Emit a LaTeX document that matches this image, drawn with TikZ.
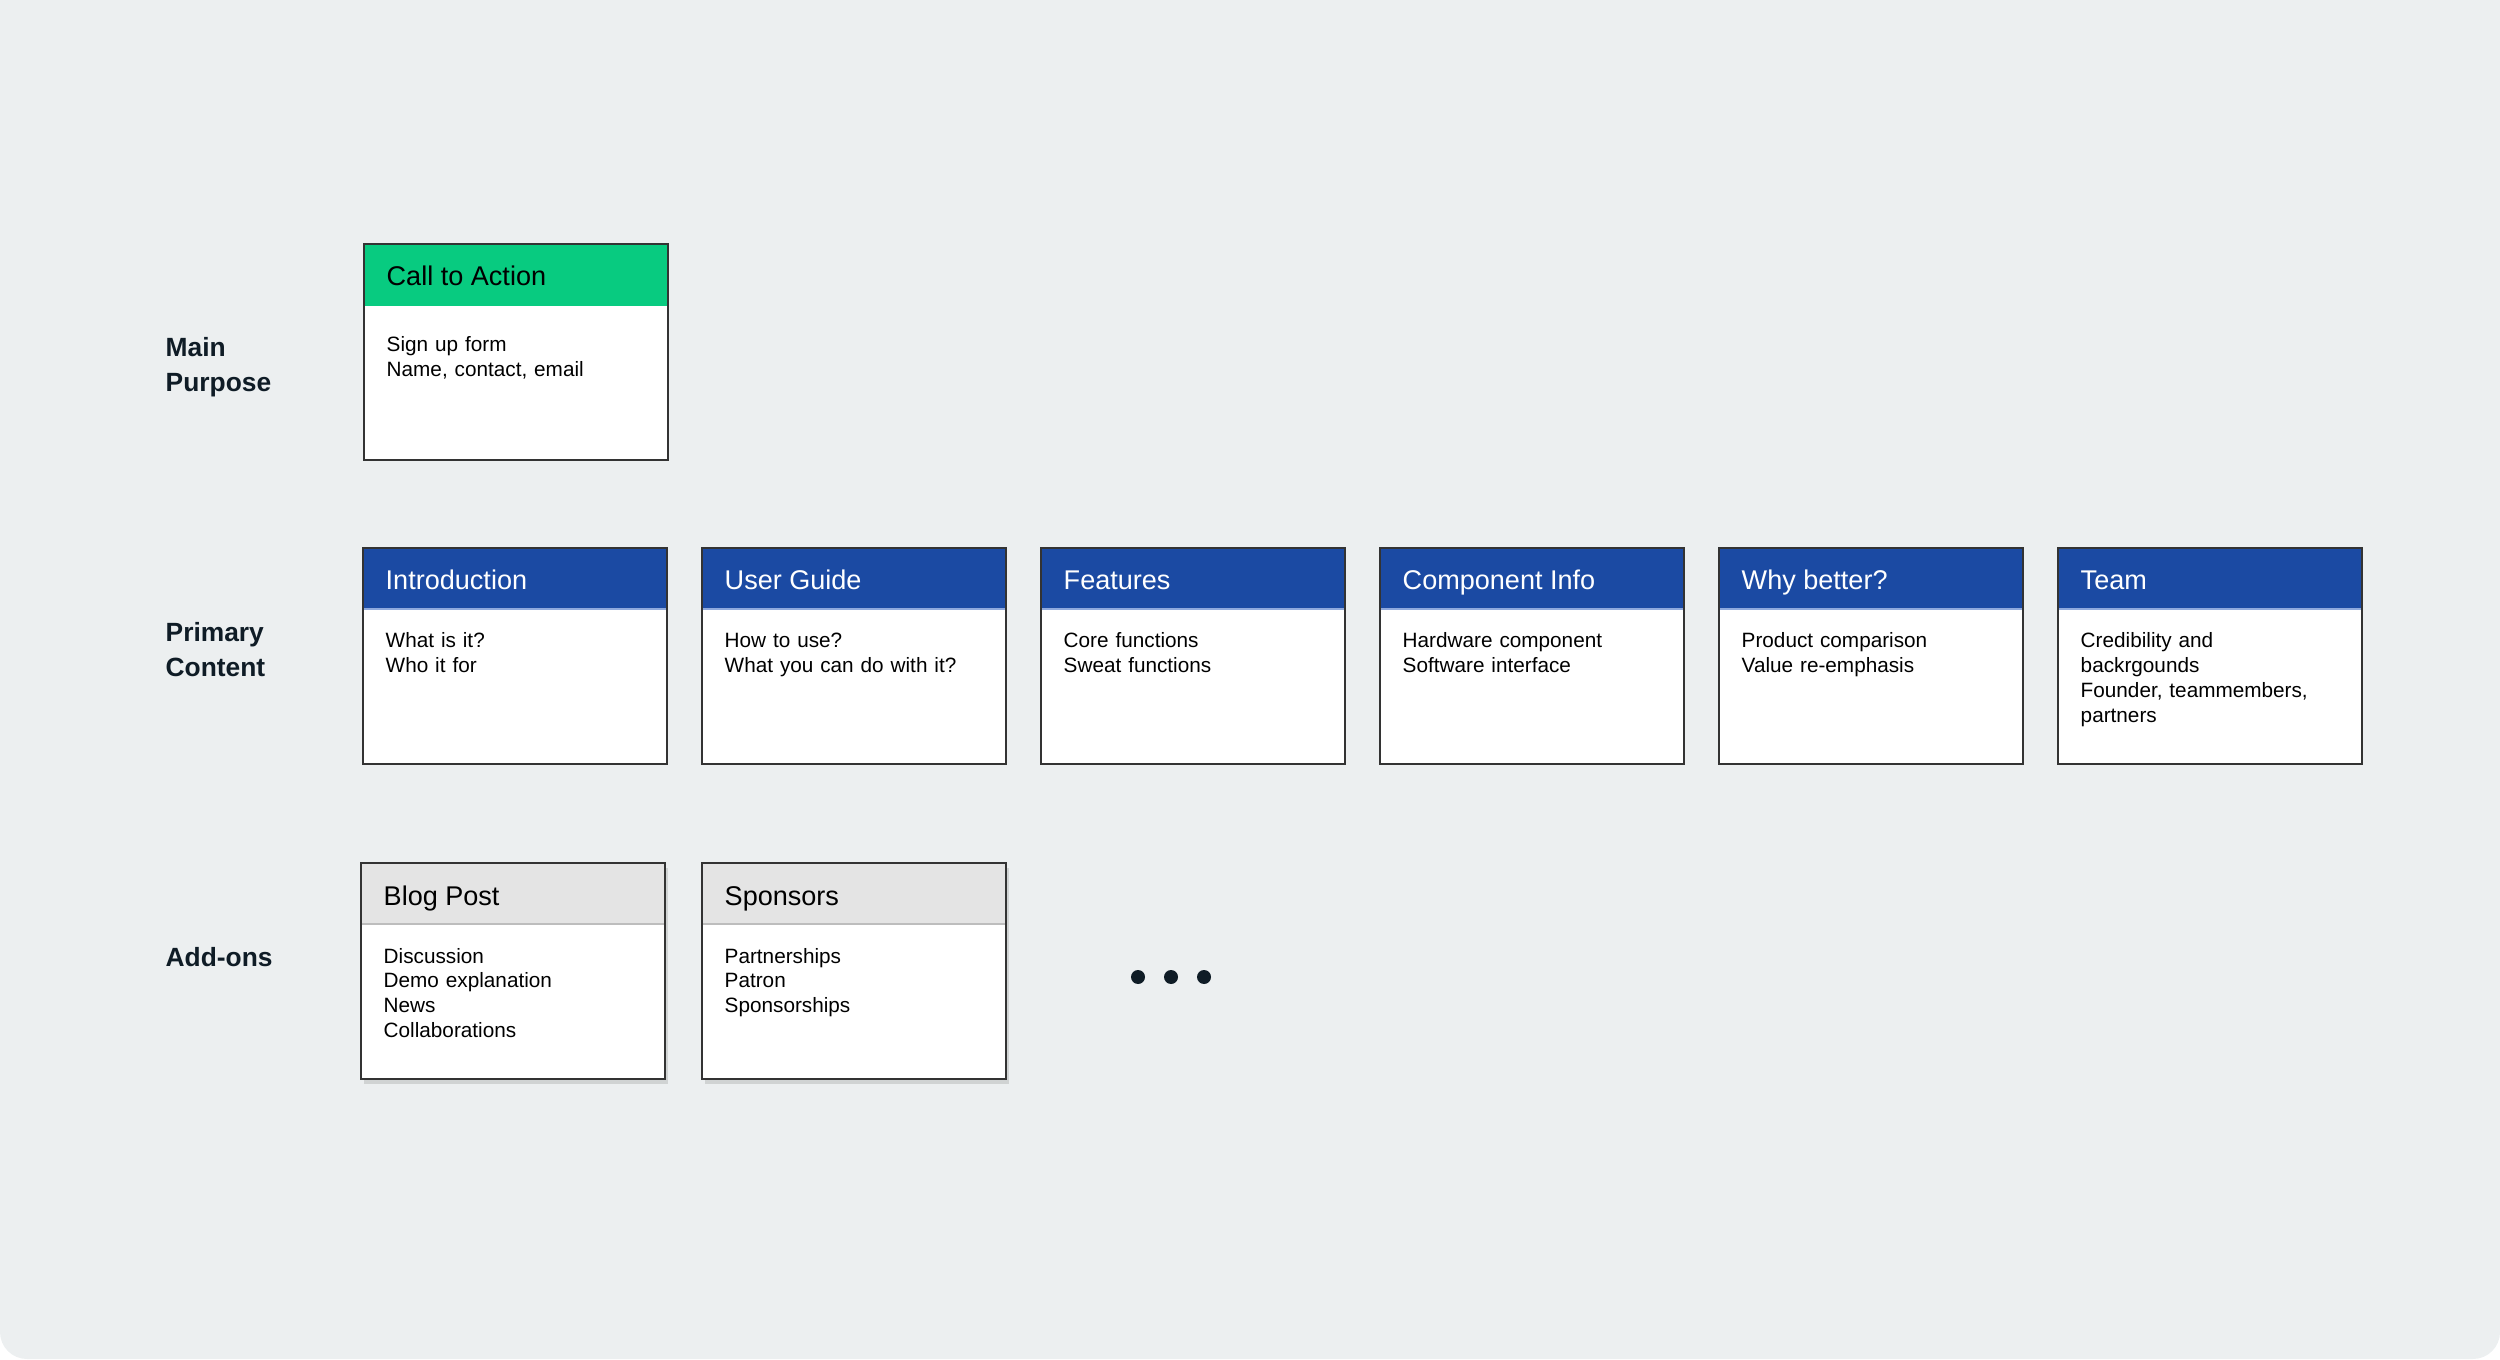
\documentclass[tikz,border=0pt]{standalone}
\usepackage{fontspec}
\setmainfont{Liberation Sans}
\usetikzlibrary{shadows}

\definecolor{pagebg}{HTML}{ECEFF0}
\definecolor{ctagreen}{HTML}{08CB80}
\definecolor{mainblue}{HTML}{1B4AA3}
\definecolor{bluerule}{HTML}{8FA9DD}
\definecolor{addgrey}{HTML}{E4E4E4}
\definecolor{greyrule}{HTML}{BDBDBD}
\definecolor{edge}{HTML}{333333}
\definecolor{labelink}{HTML}{0F1C26}

\tikzset{
  cardbox/.style={rectangle, fill=white, minimum width=3.04cm, minimum height=2.16cm,
    inner sep=0pt, outer sep=0pt, anchor=north west},
  cardtitle/.style={anchor=base west, inner sep=0pt, font=\fontsize{7.7}{9}\selectfont},
  cardtext/.style={anchor=base west, inner sep=0pt, align=left, text width=2.8cm,
    font=\fontsize{5.9}{7.1}\selectfont},
  rowlabel/.style={anchor=west, inner sep=0pt, align=left, text=labelink,
    font=\fontsize{7.5}{10}\selectfont\bfseries},
  lifted/.style={drop shadow={shadow xshift=0.03cm, shadow yshift=-0.05cm, opacity=0.25}},
}

% card: [box options] name, left, top, header fill, title colour, rule colour, title, text
\newcommand{\card}[9][]{%
  \node[cardbox,#1] (#2) at (#3,#4) {};
  \fill[#5] (#2.north west) rectangle ([yshift=-0.61cm]#2.north east);
  \draw[#7, line width=0.4pt] ([yshift=-0.61cm]#2.north west) -- ([yshift=-0.61cm]#2.north east);
  \draw[edge, line width=0.55pt] (#2.north west) rectangle (#2.south east);
  \node[cardtitle, text=#6] (#2-title) at ([xshift=0.22cm, yshift=-0.42cm]#2.north west) {#8};
  \node[cardtext] (#2-text) at ([xshift=0.22cm, yshift=-1.0cm]#2.north west) {#9};
}

\begin{document}
\begin{tikzpicture}
    \useasboundingbox (0,0) rectangle (25,13.59);
    \fill[pagebg] (0,13.59) -- (0,0.27) arc[start angle=180, end angle=270, radius=0.27]
        -- (24.73,0) arc[start angle=270, end angle=360, radius=0.27] -- (25,13.59) -- cycle;

    % row labels
    \node[rowlabel] (purpose) at (1.65,9.92) {Main\\Purpose};
    \node[rowlabel] (primary) at (1.65,7.09) {Primary\\Content};
    \node[rowlabel] (addons) at (1.65,4.02) {Add-ons};

    % main purpose
    \begin{scope}[cardtext/.append style={yshift=-0.08cm}]
    \card{cta}{3.64}{11.15}{ctagreen}{black}{ctagreen}{Call to Action}{Sign up form\\Name, contact, email}
    \end{scope}

    % primary content
    \card{intro}{3.63}{8.11}{mainblue}{white}{bluerule}{Introduction}{What is it?\\Who it for}
    \card{guide}{7.02}{8.11}{mainblue}{white}{bluerule}{User Guide}{How to use?\\What you can do with it?}
    \card{features}{10.41}{8.11}{mainblue}{white}{bluerule}{Features}{Core functions\\Sweat functions}
    \card{component}{13.80}{8.11}{mainblue}{white}{bluerule}{Component Info}{Hardware component\\Software interface}
    \card{better}{17.19}{8.11}{mainblue}{white}{bluerule}{Why better?}{Product comparison\\Value re-emphasis}
    \card{team}{20.58}{8.11}{mainblue}{white}{bluerule}{Team}{Credibility and\\backrgounds\\Founder, teammembers,\\partners}

    % add-ons
    \card[lifted]{blog}{3.61}{4.96}{addgrey}{black}{greyrule}{Blog Post}{Discussion\\Demo explanation\\News\\Collaborations}
    \card[lifted]{sponsors}{7.02}{4.96}{addgrey}{black}{greyrule}{Sponsors}{Partnerships\\Patron\\Sponsorships}

    \foreach \dx in {11.38,11.71,12.04}
        \fill[labelink] (\dx,3.82) circle (0.07);
\end{tikzpicture}
\end{document}
